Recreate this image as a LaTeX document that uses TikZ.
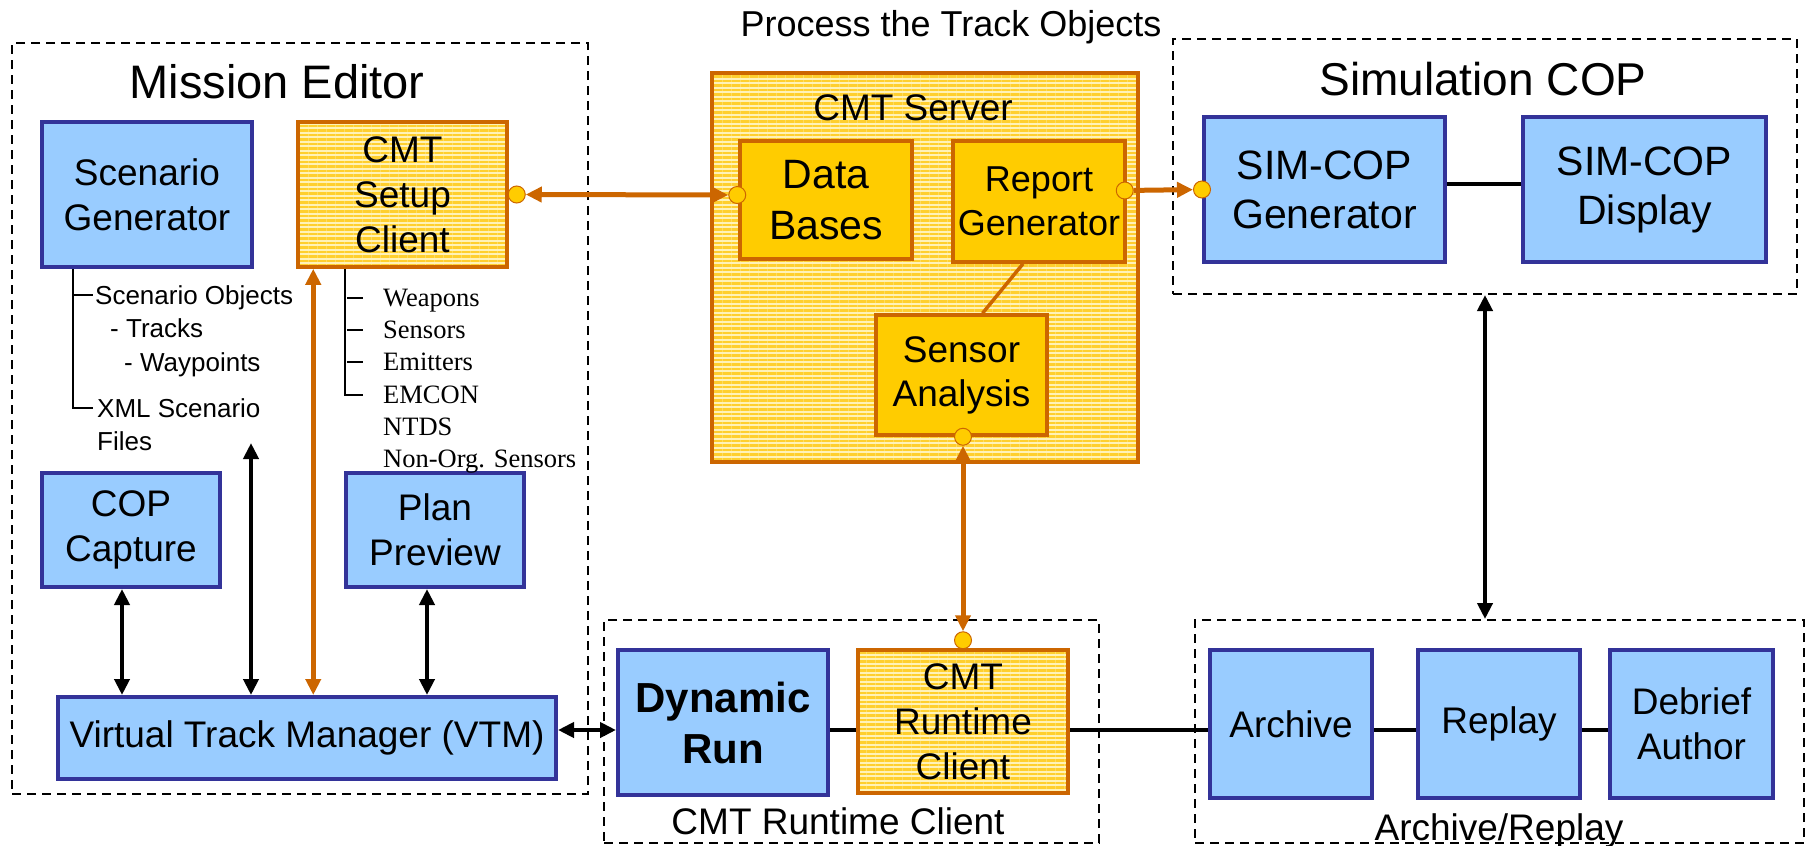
\documentclass[tikz,border=0pt]{standalone}
\usepackage{fontspec}
\setmainfont{Liberation Sans}
\newfontfamily\timesfont{Liberation Serif}
\usetikzlibrary{arrows.meta,patterns.meta}
\definecolor{boxblue}{HTML}{333399}
\definecolor{fillblue}{HTML}{99CCFF}
\definecolor{rust}{HTML}{CC6600}
\definecolor{gold}{HTML}{FFCC00}
\definecolor{palegold}{HTML}{FFF2B8}
\definecolor{stripegold}{HTML}{FFCF2E}
\newcommand{\boxfont}{\fontsize{37}{45}\selectfont}
\newcommand{\titlefont}{\fontsize{47}{56}\selectfont}
\newcommand{\treefont}{\fontsize{26}{31}\selectfont}

\begin{document}
\begin{tikzpicture}[x=1pt,y=-1pt,
  bluebox/.style={draw=boxblue,fill=fillblue,line width=4pt,align=center,inner sep=0pt,font=\boxfont},
  goldbox/.style={draw=rust,fill=gold,line width=3.5pt,align=center,inner sep=0pt,font=\boxfont},
  stripebox/.style={draw=rust,line width=3.5pt,preaction={fill=palegold},
    pattern={Lines[angle=0,distance=4.5pt,line width=2.4pt]},pattern color=stripegold,
    align=center,inner sep=0pt,font=\boxfont},
  groupbox/.style={draw,line width=2pt,dash pattern=on 9pt off 6pt,inner sep=0pt,anchor=north west},
  boxtitle/.style={inner sep=0pt,text height=26.5pt,text depth=0pt,font=\boxfont},
  bigtitle/.style={inner sep=0pt,text height=33.6pt,text depth=0pt,font=\titlefont},
  sanstree/.style={anchor=west,inner sep=0pt,text height=18.6pt,text depth=0pt,font=\treefont},
  seriftree/.style={anchor=west,inner sep=0pt,text height=17.5pt,text depth=0pt,font=\fontsize{26.5}{32}\timesfont},
  treeline/.style={line width=2pt},
  blackline/.style={line width=4pt},
  rustline/.style={line width=5pt,draw=rust},
  port/.style={circle,minimum size=17pt,inner sep=0pt,fill=gold,draw=rust,line width=1pt},
  >={Triangle[length=16pt,width=15pt]}]
  \useasboundingbox (0,0) rectangle (1810,846);

  \node[groupbox,minimum width=576pt,minimum height=751pt] (mebox) at (11,42) {};
  \node[groupbox,minimum width=624pt,minimum height=255pt] (simbox) at (1172,38) {};
  \node[groupbox,minimum width=495pt,minimum height=223pt] (rtbox) at (603,619) {};
  \node[groupbox,minimum width=609pt,minimum height=223pt] (arbox) at (1194,619) {};
  \node[stripebox,minimum width=426pt,minimum height=389pt] (server) at (925,267.5) {};

  \node[bigtitle] (metitle) at (277,82) {Mission Editor};
  \node[bigtitle,font=\fontsize{46}{55}\selectfont,text height=33pt] (simtitle) at (1483,79) {Simulation COP};
  \node[boxtitle,font=\fontsize{36}{43}\selectfont,text height=25.8pt] (ptitle) at (951,24) {Process the Track Objects};
  \node[boxtitle] (srvtitle) at (913,107) {CMT Server};
  \node[boxtitle] (rttitle) at (838,821) {CMT Runtime Client};
  \node[boxtitle] (artitle) at (1499,827) {Archive/Replay};

  \node[bluebox,minimum width=210pt,minimum height=145pt] (sg) at (147,194.5) {Scenario\\Generator};
  \node[stripebox,minimum width=209pt,minimum height=145pt] (setup) at (402.5,194.5) {CMT\\Setup\\Client};
  \node[bluebox,minimum width=178pt,minimum height=114pt] (cop) at (131,530) {COP\\Capture};
  \node[bluebox,minimum width=178pt,minimum height=114pt] (plan) at (435,530) {Plan\\Preview};
  \node[bluebox,minimum width=498pt,minimum height=82pt] (vtm) at (307,738) {Virtual Track Manager (VTM)};

  \node[goldbox,minimum width=172pt,minimum height=118pt,font=\fontsize{41}{51}\selectfont] (db) at (826,200) {Data\\Bases};
  \node[goldbox,minimum width=172pt,minimum height=121pt,font=\fontsize{36}{44}\selectfont] (rg) at (1039,201.5) {Report\\Generator};
  \node[goldbox,minimum width=171pt,minimum height=120pt,font=\fontsize{37}{44}\selectfont] (sa) at (961.5,375) {Sensor\\Analysis};

  \node[bluebox,minimum width=241pt,minimum height=145pt,font=\fontsize{41}{49}\selectfont] (simgen) at (1324.5,189.5) {SIM-COP\\Generator};
  \node[bluebox,minimum width=243pt,minimum height=145pt,font=\fontsize{41}{49}\selectfont] (simdisp) at (1644.5,189.5) {SIM-COP\\Display};

  \node[bluebox,minimum width=210pt,minimum height=145pt,font=\fontsize{42}{51}\selectfont\bfseries] (dyn) at (723,722.5) {Dynamic\\Run};
  \node[stripebox,minimum width=210pt,minimum height=143pt] (rtc) at (963,721.5) {CMT\\Runtime\\Client};
  \node[bluebox,minimum width=162pt,minimum height=148pt] (arch) at (1291,724) {Archive};
  \node[bluebox,minimum width=162pt,minimum height=148pt] (replay) at (1499,724) {Replay};
  \node[bluebox,minimum width=163pt,minimum height=148pt] (debrief) at (1691.5,724) {Debrief\\Author};

  \node[sanstree] (sobj) at (95,295) {Scenario Objects};
  \node[sanstree] (tracks) at (110,328) {- Tracks};
  \node[sanstree] (waypts) at (124,362) {- Waypoints};
  \node[sanstree] (xmlf) at (97,408) {XML Scenario};
  \node[sanstree] (files) at (97,441) {Files};
  \draw[treeline] ([xshift=33pt]sg.south west) |- ([xshift=-2pt]sobj.west);
  \draw[treeline] ([xshift=33pt]sg.south west) |- ([xshift=-4pt]xmlf.west);

  \node[seriftree] (weap) at (383,298) {Weapons};
  \node[seriftree] (sens) at (383,330) {Sensors};
  \node[seriftree] (emit) at (383,362) {Emitters};
  \node[seriftree] (emcon) at (383,395) {EMCON};
  \node[seriftree] (ntds) at (383,427) {NTDS};
  \node[seriftree] (nonorg) at (383,459) {Non-Org. Sensors};
  \draw[treeline] ([xshift=49pt]setup.south west) |- ([xshift=-20pt]emcon.west);
  \foreach \n in {weap,sens,emit}
    \draw[treeline] ([xshift=-36pt]\n.west) -- ([xshift=-20pt]\n.west);

  \coordinate (copx) at ([xshift=-9pt]cop.south);
  \coordinate (planx) at ([xshift=-8pt]plan.south);
  \coordinate (xmltip) at (251,443);
  \coordinate (setupx) at ([xshift=17pt]setup.south west);
  \coordinate (row) at (0,730);
  \draw[blackline,<->] (copx) -- (copx |- vtm.north);
  \draw[blackline,<->] (planx) -- (planx |- vtm.north);
  \draw[blackline,<->] (xmltip) -- (xmltip |- vtm.north);
  \draw[rustline,<->] (setupx) -- (setupx |- vtm.north);
  \draw[blackline,<->] (vtm.east |- row) -- (dyn.west |- row);
  \draw[blackline] (dyn.east |- row) -- (rtc.west |- row);
  \draw[blackline] (rtc.east |- row) -- (arch.west |- row);
  \draw[blackline] (arch.east |- row) -- (replay.west |- row);
  \draw[blackline] (replay.east |- row) -- (debrief.west |- row);
  \draw[blackline] ([yshift=6pt]simgen.east) -- ([yshift=6pt]simdisp.west);
  \draw[blackline,<->] (simbox.south) -- (simbox.south |- arbox.north);
  \draw[line width=3.5pt,rust] ([xshift=-16pt]rg.south) -- ([xshift=21pt]sa.north);

  \node[port] (psetup) at ([xshift=8pt]setup.east) {};
  \node[port] (pdb) at ([xshift=-1pt,yshift=5pt]db.west) {};
  \node[port] (prg) at ([xshift=-2pt,yshift=11pt]rg.east) {};
  \node[port] (psim) at (simgen.west) {};
  \node[port] (psa) at ([xshift=1.5pt]sa.south) {};
  \node[port] (prtc) at ([yshift=8pt]rtc.north) {};
  \draw[rustline,<->] (psetup) -- (pdb);
  \draw[rustline,->] (prg) -- (psim);
  \draw[rustline,<->] (psa) -- (prtc);
\end{tikzpicture}
\end{document}
